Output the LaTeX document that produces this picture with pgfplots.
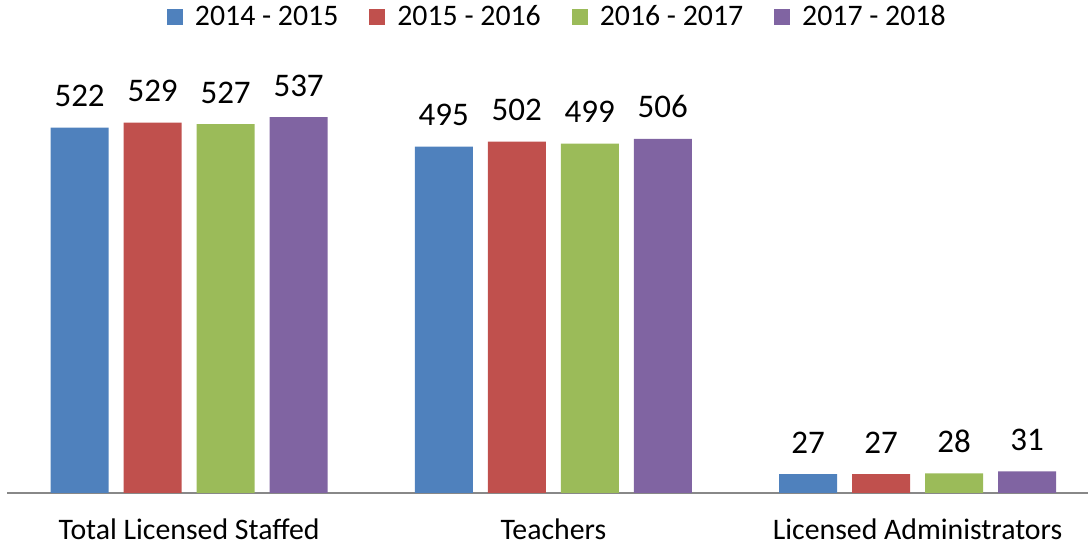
\documentclass[border=0pt]{standalone}
\usepackage{fontspec}
\setmainfont{Carlito}
\usepackage{pgfplots}
\pgfplotsset{compat=1.18}
\definecolor{sblue}{HTML}{4F81BD}
\definecolor{sred}{HTML}{C0504D}
\definecolor{sgreen}{HTML}{9BBB59}
\definecolor{spurple}{HTML}{8064A2}
\definecolor{axgray}{HTML}{888888}
\begin{document}
\begin{tikzpicture}
\begin{axis}[name=a,
  scale only axis, width=540.5pt, height=216.5pt,
  ybar=7.5pt, bar width=29pt,
  xmin=-0.5, xmax=2.468, ymin=0, ymax=618.6,
  xtick=data, xticklabels={Total Licensed Staffed,Teachers,Licensed Administrators},
  major tick length=0pt,
  axis x line*=bottom, hide y axis,
  x axis line style={draw=axgray, line width=0.7pt},
  xticklabel style={font=\fontsize{14.9}{18}\selectfont, anchor=base, inner sep=0pt, yshift=-23.5pt},
  nodes near coords,
  every node near coord/.append style={font=\fontsize{16.5}{19}\selectfont, inner sep=0pt, anchor=base, yshift=10.5pt, black},
  /pgf/number format/assume math mode=true,
  legend columns=4,
  legend style={at={(0.51,1)}, anchor=center, yshift=21.5pt, draw=none, fill=none,
    font=\fontsize{14.9}{18}\selectfont, column sep=0pt,
    /tikz/every odd column/.append style={column sep=4pt},
    /tikz/every even column/.append style={column sep=13.5pt}},
  legend image code/.code={\fill[#1] (0pt,-4pt) rectangle (8pt,4pt);},
]
\addplot[fill=sblue, draw=none] coordinates {(0,522) (1,495) (2,27)};
\addlegendentry{2014 - 2015}
\addplot[fill=sred, draw=none] coordinates {(0,529) (1,502) (2,27)};
\addlegendentry{2015 - 2016}
\addplot[fill=sgreen, draw=none] coordinates {(0,527) (1,499) (2,28)};
\addlegendentry{2016 - 2017}
\addplot[fill=spurple, draw=none] coordinates {(0,537) (1,506) (2,31)};
\addlegendentry{2017 - 2018}
\end{axis}
\pgfresetboundingbox
\path ([xshift=-3.5pt, yshift=-27.5pt]a.south west) rectangle ([yshift=30pt]a.north east);
\end{tikzpicture}
\end{document}
